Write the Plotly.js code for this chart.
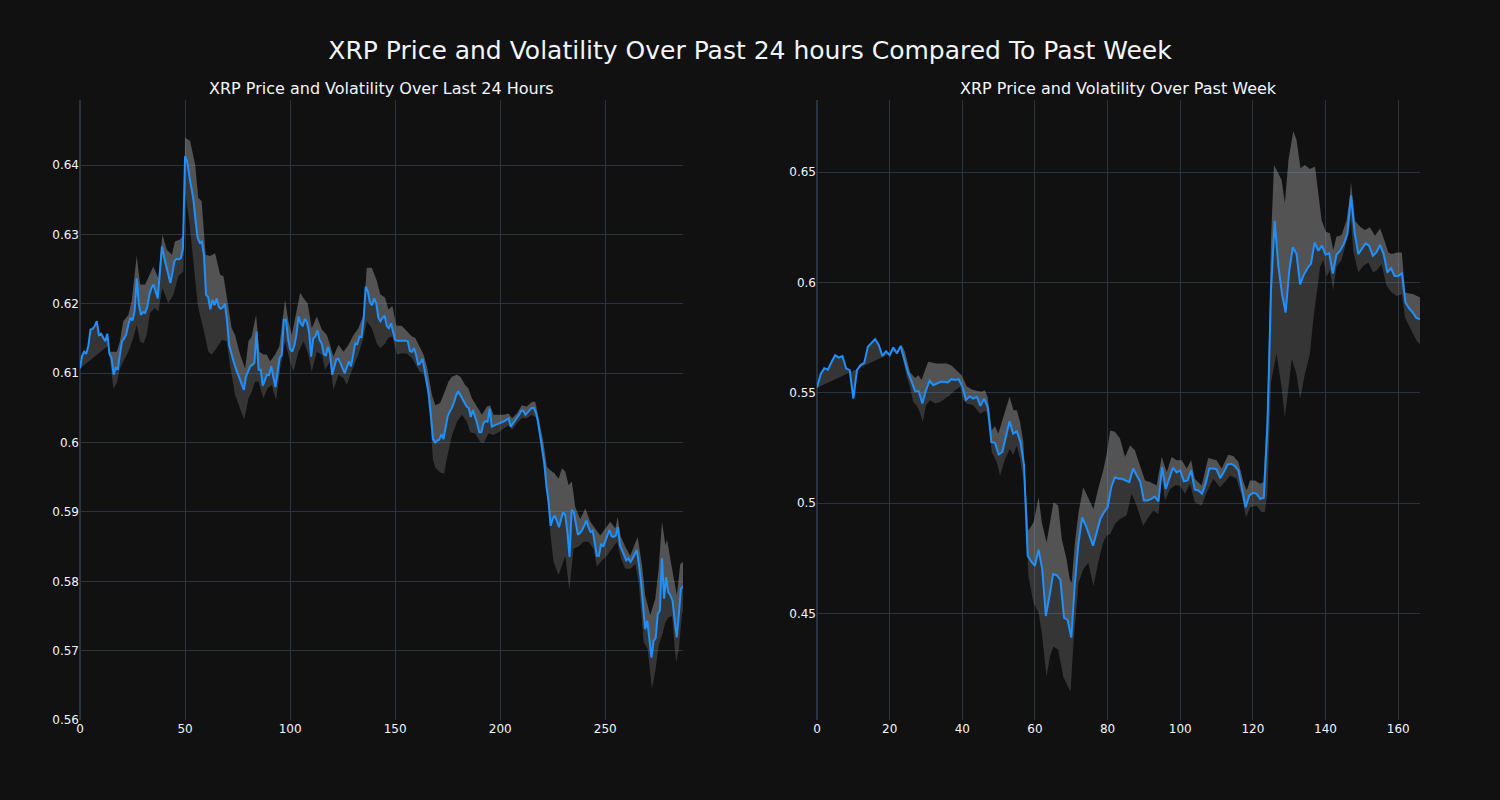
<!DOCTYPE html>
<html>
<head>
<meta charset="utf-8">
<script src="https://cdn.plot.ly/plotly-3.0.1.min.js"></script>
<style>html,body{margin:0;padding:0;background:#111111;}</style>
</head>
<body>
<div id="chart" style="width:1500px;height:800px;"></div>
<script>
// ---------- DATA ----------
const mainTitle = "XRP Price and Volatility Over Past 24 hours Compared To Past Week";
const leftTitle = "XRP Price and Volatility Over Last 24 Hours";
const rightTitle = "XRP Price and Volatility Over Past Week";

// 24h price (5-minute steps, index 0..287)
const dayPrice = [
0.6107,0.6125,0.6131,0.6128,0.6140,0.6163,0.6164,0.6168,0.6175,0.6155,
0.6157,0.6152,0.6146,0.6157,0.6128,0.6122,0.6098,0.6108,0.6106,0.6127,
0.6146,0.6150,0.6156,0.6170,0.6180,0.6176,0.6190,0.6237,0.6200,0.6184,
0.6188,0.6187,0.6195,0.6213,0.6223,0.6228,0.6218,0.6208,0.6245,0.6283,
0.6268,0.6255,0.6242,0.6230,0.6245,0.6262,0.6265,0.6264,0.6266,0.6280,
0.6413,0.6405,0.6385,0.6370,0.6350,0.6320,0.6295,0.6288,0.6290,0.6270,
0.6213,0.6210,0.6192,0.6206,0.6198,0.6208,0.6196,0.6193,0.6195,0.6200,
0.6175,0.6140,0.6127,0.6118,0.6108,0.6100,0.6090,0.6083,0.6076,0.6095,
0.6104,0.6110,0.6112,0.6115,0.6160,0.6105,0.6105,0.6082,0.6090,0.6098,
0.6097,0.6110,0.6095,0.6080,0.6100,0.6122,0.6126,0.6177,0.6177,0.6150,
0.6135,0.6131,0.6140,0.6155,0.6182,0.6172,0.6168,0.6178,0.6174,0.6160,
0.6124,0.6150,0.6153,0.6162,0.6148,0.6143,0.6128,0.6125,0.6138,0.6128,
0.6098,0.6108,0.6120,0.6121,0.6115,0.6107,0.6100,0.6110,0.6117,0.6110,
0.6127,0.6143,0.6142,0.6153,0.6152,0.6178,0.6225,0.6218,0.6202,0.6198,
0.6208,0.6201,0.6180,0.6175,0.6180,0.6183,0.6168,0.6165,0.6172,0.6160,
0.6148,0.6147,0.6147,0.6148,0.6148,0.6147,0.6146,0.6132,0.6131,0.6136,
0.6126,0.6112,0.6115,0.6121,0.6105,0.6088,0.6070,0.6040,0.6005,0.6000,
0.6003,0.6004,0.6012,0.6005,0.6025,0.6038,0.6045,0.6050,0.6058,0.6068,
0.6074,0.6068,0.6062,0.6058,0.6052,0.6050,0.6037,0.6047,0.6038,0.6028,
0.6015,0.6015,0.6028,0.6031,0.6030,0.6049,0.6023,0.6025,0.6026,0.6027,
0.6028,0.6030,0.6031,0.6033,0.6035,0.6023,0.6027,0.6032,0.6036,0.6040,
0.6046,0.6046,0.6040,0.6043,0.6047,0.6050,0.6050,0.6043,0.6030,0.6010,
0.5990,0.5970,0.5937,0.5915,0.5880,0.5890,0.5895,0.5885,0.5878,0.5890,
0.5900,0.5895,0.5870,0.5835,0.5903,0.5900,0.5886,0.5867,0.5870,0.5874,
0.5880,0.5888,0.5878,0.5871,0.5873,0.5855,0.5837,0.5837,0.5854,0.5850,
0.5859,0.5866,0.5874,0.5865,0.5864,0.5866,0.5878,0.5852,0.5845,0.5838,
0.5830,0.5833,0.5828,0.5833,0.5840,0.5845,0.5825,0.5800,0.5765,0.5731,
0.5743,0.5712,0.5690,0.5714,0.5718,0.5753,0.5758,0.5833,0.5775,0.5806,
0.5784,0.5780,0.5772,0.5745,0.5719,0.5751,0.5789,0.5793
];

// 24h volatility band edges, read as [index, value]
const dayUpper = [
[14.3,0.6131],[15.9,0.6131],[17.5,0.6131],[19,0.6146],[20.6,0.6175],[23,0.6184],[24.6,0.6204],[27,0.6269],
[28.6,0.6228],[31,0.6228],[33.3,0.6242],[34.9,0.6254],[37.3,0.6237],[39.2,0.6300],[41.3,0.6278],[43.7,0.6271],
[45.2,0.6290],[47.6,0.6293],[49.3,0.6300],[50,0.6440],[52.4,0.6435],[54.8,0.6401],[56.3,0.6353],[57.9,0.6348],
[59.8,0.6271],[61.9,0.6269],[64.3,0.6273],[66.7,0.6242],[68.3,0.6240],[69.8,0.6213],[72.2,0.6165],[73.8,0.6155],
[76.2,0.6127],[78.6,0.6107],[80.2,0.6146],[81.7,0.6153],[83.8,0.6184],[85.4,0.6131],[87.3,0.6127],[88.9,0.6127],
[90.5,0.6117],[92.9,0.6127],[94.9,0.6139],[97.6,0.6206],[99.2,0.6175],[100.8,0.6155],[103.2,0.6194],[104.8,0.6216],
[106.4,0.6208],[108.3,0.6201],[110.3,0.6165],[112.7,0.6182],[115.1,0.6163],[117.5,0.6155],[119,0.6141],[120.6,0.6124],
[123,0.6141],[125.4,0.6131],[127.8,0.6141],[130.2,0.6155],[132.5,0.6165],[134.9,0.6184],[136.5,0.6252],[138.9,0.6252],
[141.3,0.6233],[142.9,0.6214],[145.2,0.6209],[146.8,0.6192],[148.7,0.6197],[150.5,0.6169],[153.2,0.6168],[155.6,0.6160],
[158,0.6153],[159.5,0.6151],[161.9,0.6136],[163.5,0.6127],[165.1,0.6110],[167.5,0.6069],[169.1,0.6054],[171.4,0.6057],
[173,0.6069],[175.4,0.6088],[177,0.6095],[179.4,0.6098],[181,0.6095],[183.3,0.6083],[184.9,0.6078],[186.5,0.6064],
[188.9,0.6052],[191.3,0.6040],[193.7,0.6052],[195.2,0.6054],[196.8,0.6040],[199.2,0.6040],[201.6,0.6040],[204,0.6042],
[205.6,0.6035],[207.9,0.6042],[210.3,0.6054],[212.7,0.6052],[215.1,0.6059],[216.7,0.6059],[217.5,0.6047],[219,0.6028],
[220.6,0.6000],[222.2,0.5965],[223.8,0.5960],[225.7,0.5956],[227.8,0.5948],[229.4,0.5963],[231,0.5958],[232.5,0.5939],
[234.1,0.5944],[235.7,0.5907],[238.1,0.5890],[240.5,0.5905],[242.9,0.5886],[245.2,0.5876],[247.6,0.5866],[250,0.5876],
[252.4,0.5886],[254.8,0.5876],[255.9,0.5893],[257.2,0.5866],[259.5,0.5850],[261.9,0.5837],[264.3,0.5857],[265.4,0.5864],
[267.5,0.5823],[269,0.5780],[271.4,0.5751],[273.8,0.5775],[275.4,0.5818],[277,0.5886],[278.6,0.5852],[279.4,0.5860],
[281.8,0.5818],[284.1,0.5780],[285.7,0.5825],[287,0.5828]
];
const dayLower = [
[13.5,0.6140],[14.3,0.6117],[15.9,0.6078],[17.5,0.6086],[19,0.6107],[20.6,0.6117],[23,0.6131],[25.4,0.6151],
[27,0.6170],[28.6,0.6146],[30.2,0.6143],[31.7,0.6155],[33.3,0.6187],[35.7,0.6194],[37.3,0.6189],[39.2,0.6223],
[42,0.6201],[44.4,0.6213],[46.8,0.6240],[49.2,0.6247],[50,0.6360],[51,0.6340],[52,0.6320],[53,0.6290],
[54,0.6260],[55,0.6230],[56,0.6200],[57,0.6185],[58.7,0.6165],[61.1,0.6131],[62.7,0.6127],[65,0.6136],
[67.5,0.6148],[69.8,0.6146],[71.5,0.6110],[73.8,0.6069],[76.2,0.6049],[78.1,0.6033],[80.2,0.6064],[81.7,0.6073],
[83.3,0.6088],[84.9,0.6088],[87.3,0.6064],[89.2,0.6078],[91.3,0.6083],[93.3,0.6061],[95.2,0.6105],[97.6,0.6146],
[100,0.6117],[101.6,0.6102],[104,0.6131],[106.4,0.6146],[108.7,0.6127],[110.3,0.6102],[112.7,0.6131],[115.1,0.6127],
[116.7,0.6105],[119,0.6117],[120.6,0.6076],[123,0.6098],[125.4,0.6093],[127,0.6083],[128.6,0.6098],[130.5,0.6112],
[132.5,0.6127],[134.9,0.6151],[136.5,0.6175],[138.9,0.6165],[141.3,0.6143],[142.9,0.6136],[145.2,0.6143],[146.8,0.6151],
[148.7,0.6153],[150.8,0.6127],[153.2,0.6129],[155.6,0.6128],[158,0.6122],[159.5,0.6114],[161.6,0.6102],[163.5,0.6100],
[165.1,0.6078],[167,0.6020],[168,0.5975],[169.1,0.5964],[171.4,0.5957],[173.3,0.5955],[174.6,0.5977],[177,0.6010],
[179.4,0.6030],[181.8,0.6040],[184.1,0.6030],[185.7,0.6015],[188.1,0.6013],[190.5,0.6001],[192.1,0.5999],[194.4,0.6013],
[196.8,0.6011],[199.2,0.6015],[201.6,0.6020],[204,0.6025],[205.6,0.6018],[207.9,0.6028],[210.3,0.6035],[212.7,0.6035],
[215.1,0.6040],[217.5,0.6035],[219.8,0.5985],[222.2,0.5929],[223.8,0.5871],[225.4,0.5828],[227.8,0.5809],[229.4,0.5823],
[231,0.5837],[232.9,0.5787],[234.9,0.5847],[237.3,0.5850],[239.7,0.5857],[242.1,0.5857],[244.4,0.5847],[246,0.5821],
[248.4,0.5830],[250.8,0.5837],[253.2,0.5847],[255.6,0.5857],[257.5,0.5833],[259.5,0.5818],[261.9,0.5818],[264.3,0.5825],
[265.9,0.5799],[268.3,0.5712],[270.2,0.5702],[272.2,0.5645],[273.8,0.5670],[275.4,0.5707],[277,0.5722],[278.6,0.5741],
[280.2,0.5748],[281.8,0.5750],[283.7,0.5683],[285,0.5702],[286.5,0.5752],[287,0.5757]
];

// week price (hourly steps, index 0..166)
const weekPrice = [
0.5523,0.5585,0.5612,0.5605,0.5640,0.5671,0.5660,0.5667,0.5611,0.5603,
0.5474,0.5603,0.5626,0.5636,0.5709,0.5729,0.5744,0.5717,0.5668,0.5689,
0.5671,0.5706,0.5679,0.5712,0.5656,0.5595,0.5553,0.5508,0.5508,0.5452,
0.5512,0.5555,0.5535,0.5542,0.5550,0.5550,0.5547,0.5562,0.5558,0.5562,
0.5530,0.5468,0.5484,0.5474,0.5482,0.5441,0.5474,0.5436,0.5277,0.5274,
0.5221,0.5232,0.5300,0.5371,0.5315,0.5326,0.5277,0.5171,0.4762,0.4735,
0.4717,0.4789,0.4702,0.4489,0.4580,0.4679,0.4674,0.4653,0.4482,0.4471,
0.4391,0.4641,0.4823,0.4936,0.4898,0.4853,0.4808,0.4868,0.4929,0.4959,
0.4982,0.5073,0.5118,0.5111,0.5111,0.5103,0.5096,0.5157,0.5126,0.5096,
0.5012,0.5012,0.5020,0.5030,0.5008,0.5164,0.5065,0.5111,0.5161,0.5140,
0.5149,0.5099,0.5103,0.5149,0.5062,0.5058,0.5043,0.5090,0.5157,0.5157,
0.5154,0.5114,0.5141,0.5175,0.5179,0.5169,0.5149,0.5065,0.4982,0.5035,
0.5047,0.5043,0.5020,0.5025,0.5350,0.5970,0.6280,0.6075,0.5950,0.5864,
0.6053,0.6160,0.6130,0.5992,0.6035,0.6065,0.6086,0.6182,0.6144,0.6167,
0.6126,0.6133,0.6041,0.6126,0.6144,0.6174,0.6220,0.6394,0.6227,0.6129,
0.6152,0.6177,0.6167,0.6121,0.6136,0.6171,0.6129,0.6045,0.6065,0.6030,
0.6030,0.6041,0.5909,0.5883,0.5864,0.5840,0.5833
];

const weekUpper = [
[23.3,0.5717],[24.2,0.5686],[25.6,0.5595],[27,0.5568],[27.9,0.5580],[28.8,0.5558],[29.7,0.5600],[30.6,0.5641],
[31.6,0.5638],[32.9,0.5633],[34.3,0.5633],[35.7,0.5633],[37.1,0.5623],[38.4,0.5603],[39.8,0.5580],[41.2,0.5530],
[42.6,0.5515],[44,0.5510],[45.3,0.5505],[46.2,0.5512],[47,0.5480],[48.1,0.5330],[49,0.5350],[49.9,0.5315],
[51.3,0.5391],[53,0.5482],[54.1,0.5421],[55,0.5421],[55.9,0.5368],[56.8,0.5277],[57.5,0.5050],[58.2,0.4875],
[59.6,0.4913],[61,0.5027],[61.9,0.4913],[63.2,0.4822],[65.1,0.5005],[66.4,0.4990],[67.4,0.4837],[68.7,0.4746],
[69.6,0.4655],[70.1,0.4640],[71,0.4822],[72,0.4959],[73.3,0.5073],[74.7,0.5027],[76.1,0.4974],[77.4,0.5065],
[78.8,0.5150],[79.7,0.5220],[80.7,0.5330],[82,0.5324],[83.4,0.5293],[84.8,0.5210],[86.2,0.5263],[87.5,0.5240],
[88.9,0.5172],[90.3,0.5103],[91.7,0.5096],[93.5,0.5081],[94.9,0.5210],[96.3,0.5141],[97.6,0.5210],[99,0.5195],
[100.4,0.5195],[101.8,0.5157],[103,0.5195],[104,0.5111],[105.9,0.5081],[107.7,0.5205],[110,0.5195],[111.4,0.5157],
[113.2,0.5220],[114.6,0.5214],[116,0.5187],[117.4,0.5096],[118.3,0.5058],[119.2,0.5103],[120.6,0.5103],[122,0.5088],
[122.9,0.5096],[124,0.5450],[125,0.6200],[125.8,0.6533],[127.9,0.6465],[128.8,0.6359],[129.8,0.6556],[131.1,0.6685],
[132,0.6647],[133.1,0.6518],[134.3,0.6533],[135.7,0.6514],[137.1,0.6526],[138,0.6389],[138.9,0.6283],[140.1,0.6230],
[141.2,0.6223],[142.1,0.6147],[143,0.6208],[144.4,0.6215],[145.8,0.6283],[146.7,0.6390],[147,0.6455],[148.1,0.6280],
[149.5,0.6253],[150.8,0.6238],[152.2,0.6250],[153.6,0.6212],[155,0.6245],[155.9,0.6205],[157.3,0.6136],[158.2,0.6129],
[159.6,0.6136],[161,0.6136],[161.9,0.5955],[164.2,0.5947],[166,0.5932]
];
const weekLower = [
[23,0.5700],[24.7,0.5573],[25.6,0.5527],[26.5,0.5459],[27.4,0.5444],[28.3,0.5414],[29.1,0.5368],[30,0.5444],
[31.1,0.5467],[32.5,0.5452],[33.9,0.5459],[35.2,0.5474],[36.6,0.5489],[38,0.5512],[39.4,0.5527],[40.2,0.5470],
[41.2,0.5452],[43,0.5444],[44.9,0.5406],[46.5,0.5420],[47.3,0.5380],[48.1,0.5232],[49.5,0.5186],[50.4,0.5126],
[51.8,0.5202],[53.1,0.5247],[54,0.5217],[55,0.5262],[55.9,0.5202],[56.8,0.5111],[57.7,0.4883],[58.2,0.4670],
[59.6,0.4549],[61,0.4503],[61.9,0.4412],[63.2,0.4214],[64.1,0.4305],[65.1,0.4351],[66.4,0.4336],[67.8,0.4214],
[68.7,0.4184],[69.8,0.4146],[70.6,0.4366],[72,0.4640],[73.3,0.4701],[74.7,0.4731],[76.1,0.4625],[77.4,0.4731],
[78.8,0.4822],[79.7,0.4853],[80.7,0.4860],[82,0.4906],[83.4,0.4929],[85.2,0.4944],[86.6,0.5043],[88,0.4989],
[89.8,0.4898],[91.2,0.4936],[92.6,0.4967],[94,0.4951],[94.9,0.5111],[95.8,0.5012],[97.2,0.5065],[98.6,0.5081],
[99.9,0.5081],[101.3,0.5043],[102.7,0.5088],[104,0.5005],[105.9,0.4989],[107.3,0.5050],[109.1,0.5111],[110.9,0.5073],
[112.3,0.5096],[113.7,0.5126],[115.5,0.5111],[116.9,0.5035],[118.1,0.4936],[119.2,0.4982],[121,0.4989],[122.4,0.4959],
[123.3,0.4962],[124,0.5050],[125,0.5550],[126.5,0.5677],[127.9,0.5526],[128.8,0.5389],[129.8,0.5526],[130.7,0.5655],
[132,0.5586],[133,0.5473],[134.3,0.5586],[135.7,0.5677],[136.6,0.5829],[137.5,0.5950],[138.5,0.6071],[139.4,0.6102],
[140.3,0.6026],[141.2,0.6056],[142.1,0.5965],[143,0.6071],[144.4,0.6102],[145.8,0.6192],[147,0.6290],[147.6,0.6144],
[149,0.6045],[150.4,0.6076],[151.8,0.6091],[153.1,0.6045],[154,0.6053],[155.4,0.6083],[156.8,0.5985],[158.2,0.5955],
[159.6,0.5939],[161,0.5947],[161.9,0.5841],[163.7,0.5780],[165.1,0.5735],[166,0.5720]
];

// ---------- STYLE ----------
const FONT = 'DejaVu Sans, Verdana, sans-serif';
const BG = '#111111', GRID = '#283442', TXT = '#f2f5fa';
const LINE = '#1e90ff';
const FILL_LOW = 'rgba(140,140,140,0.30)';
const FILL_UP = 'rgba(150,150,150,0.50)';

function buildTraces(price, upper, lower, xa, ya) {
  const idx = price.map((_, i) => i);
  const startUp = Math.floor(upper[0][0]);
  const subIdx = idx.slice(startUp);
  const common = {xaxis: xa, yaxis: ya, showlegend: false, hoverinfo: 'skip'};
  return [
    Object.assign({type: 'scatter', mode: 'lines', x: lower.map(p => p[0]), y: lower.map(p => p[1]),
      line: {width: 0, color: 'rgba(0,0,0,0)'}}, common),
    Object.assign({type: 'scatter', mode: 'lines', x: idx, y: price, fill: 'tonexty', fillcolor: FILL_LOW,
      line: {width: 0, color: 'rgba(0,0,0,0)'}}, common),
    Object.assign({type: 'scatter', mode: 'lines', x: subIdx, y: subIdx.map(i => price[i]),
      line: {width: 0, color: 'rgba(0,0,0,0)'}}, common),
    Object.assign({type: 'scatter', mode: 'lines', x: upper.map(p => p[0]), y: upper.map(p => p[1]), fill: 'tonexty', fillcolor: FILL_UP,
      line: {width: 0, color: 'rgba(0,0,0,0)'}}, common),
    Object.assign({type: 'scatter', mode: 'lines', x: idx, y: price,
      line: {width: 2, color: LINE}}, common)
  ];
}

const data = [].concat(
  buildTraces(dayPrice, dayUpper, dayLower, 'x', 'y'),
  buildTraces(weekPrice, weekUpper, weekLower, 'x2', 'y2')
);

const axisCommon = {
  gridcolor: GRID, zerolinecolor: GRID, zerolinewidth: 2, showline: false,
  tickfont: {family: FONT, size: 12, color: TXT}, ticks: '', automargin: false
};

const layout = {
  width: 1500, height: 800,
  paper_bgcolor: BG, plot_bgcolor: BG,
  font: {family: FONT, color: TXT, size: 12},
  margin: {l: 80, r: 80, t: 100, b: 80},
  title: {text: mainTitle, x: 0.5, xanchor: 'center', y: 0.9375, yanchor: 'middle', font: {family: FONT, size: 25, color: TXT}},
  xaxis: Object.assign({domain: [0, 0.45], anchor: 'y', range: [0, 287], dtick: 50, tick0: 0}, axisCommon),
  yaxis: Object.assign({anchor: 'x', range: [0.56, 0.6494], dtick: 0.01, tick0: 0.56}, axisCommon),
  xaxis2: Object.assign({domain: [0.55, 1], anchor: 'y2', range: [0, 166], dtick: 20, tick0: 0}, axisCommon),
  yaxis2: Object.assign({anchor: 'x2', range: [0.4018, 0.6827], dtick: 0.05, tick0: 0.45}, axisCommon),
  annotations: [
    {text: leftTitle, x: 0.225, y: 1, xref: 'paper', yref: 'paper', xanchor: 'center', yanchor: 'bottom', showarrow: false, font: {family: FONT, size: 16, color: TXT}},
    {text: rightTitle, x: 0.775, y: 1, xref: 'paper', yref: 'paper', xanchor: 'center', yanchor: 'bottom', showarrow: false, font: {family: FONT, size: 16, color: TXT}}
  ]
};

Plotly.newPlot('chart', data, layout, {staticPlot: true, displayModeBar: false});
</script>
</body>
</html>
